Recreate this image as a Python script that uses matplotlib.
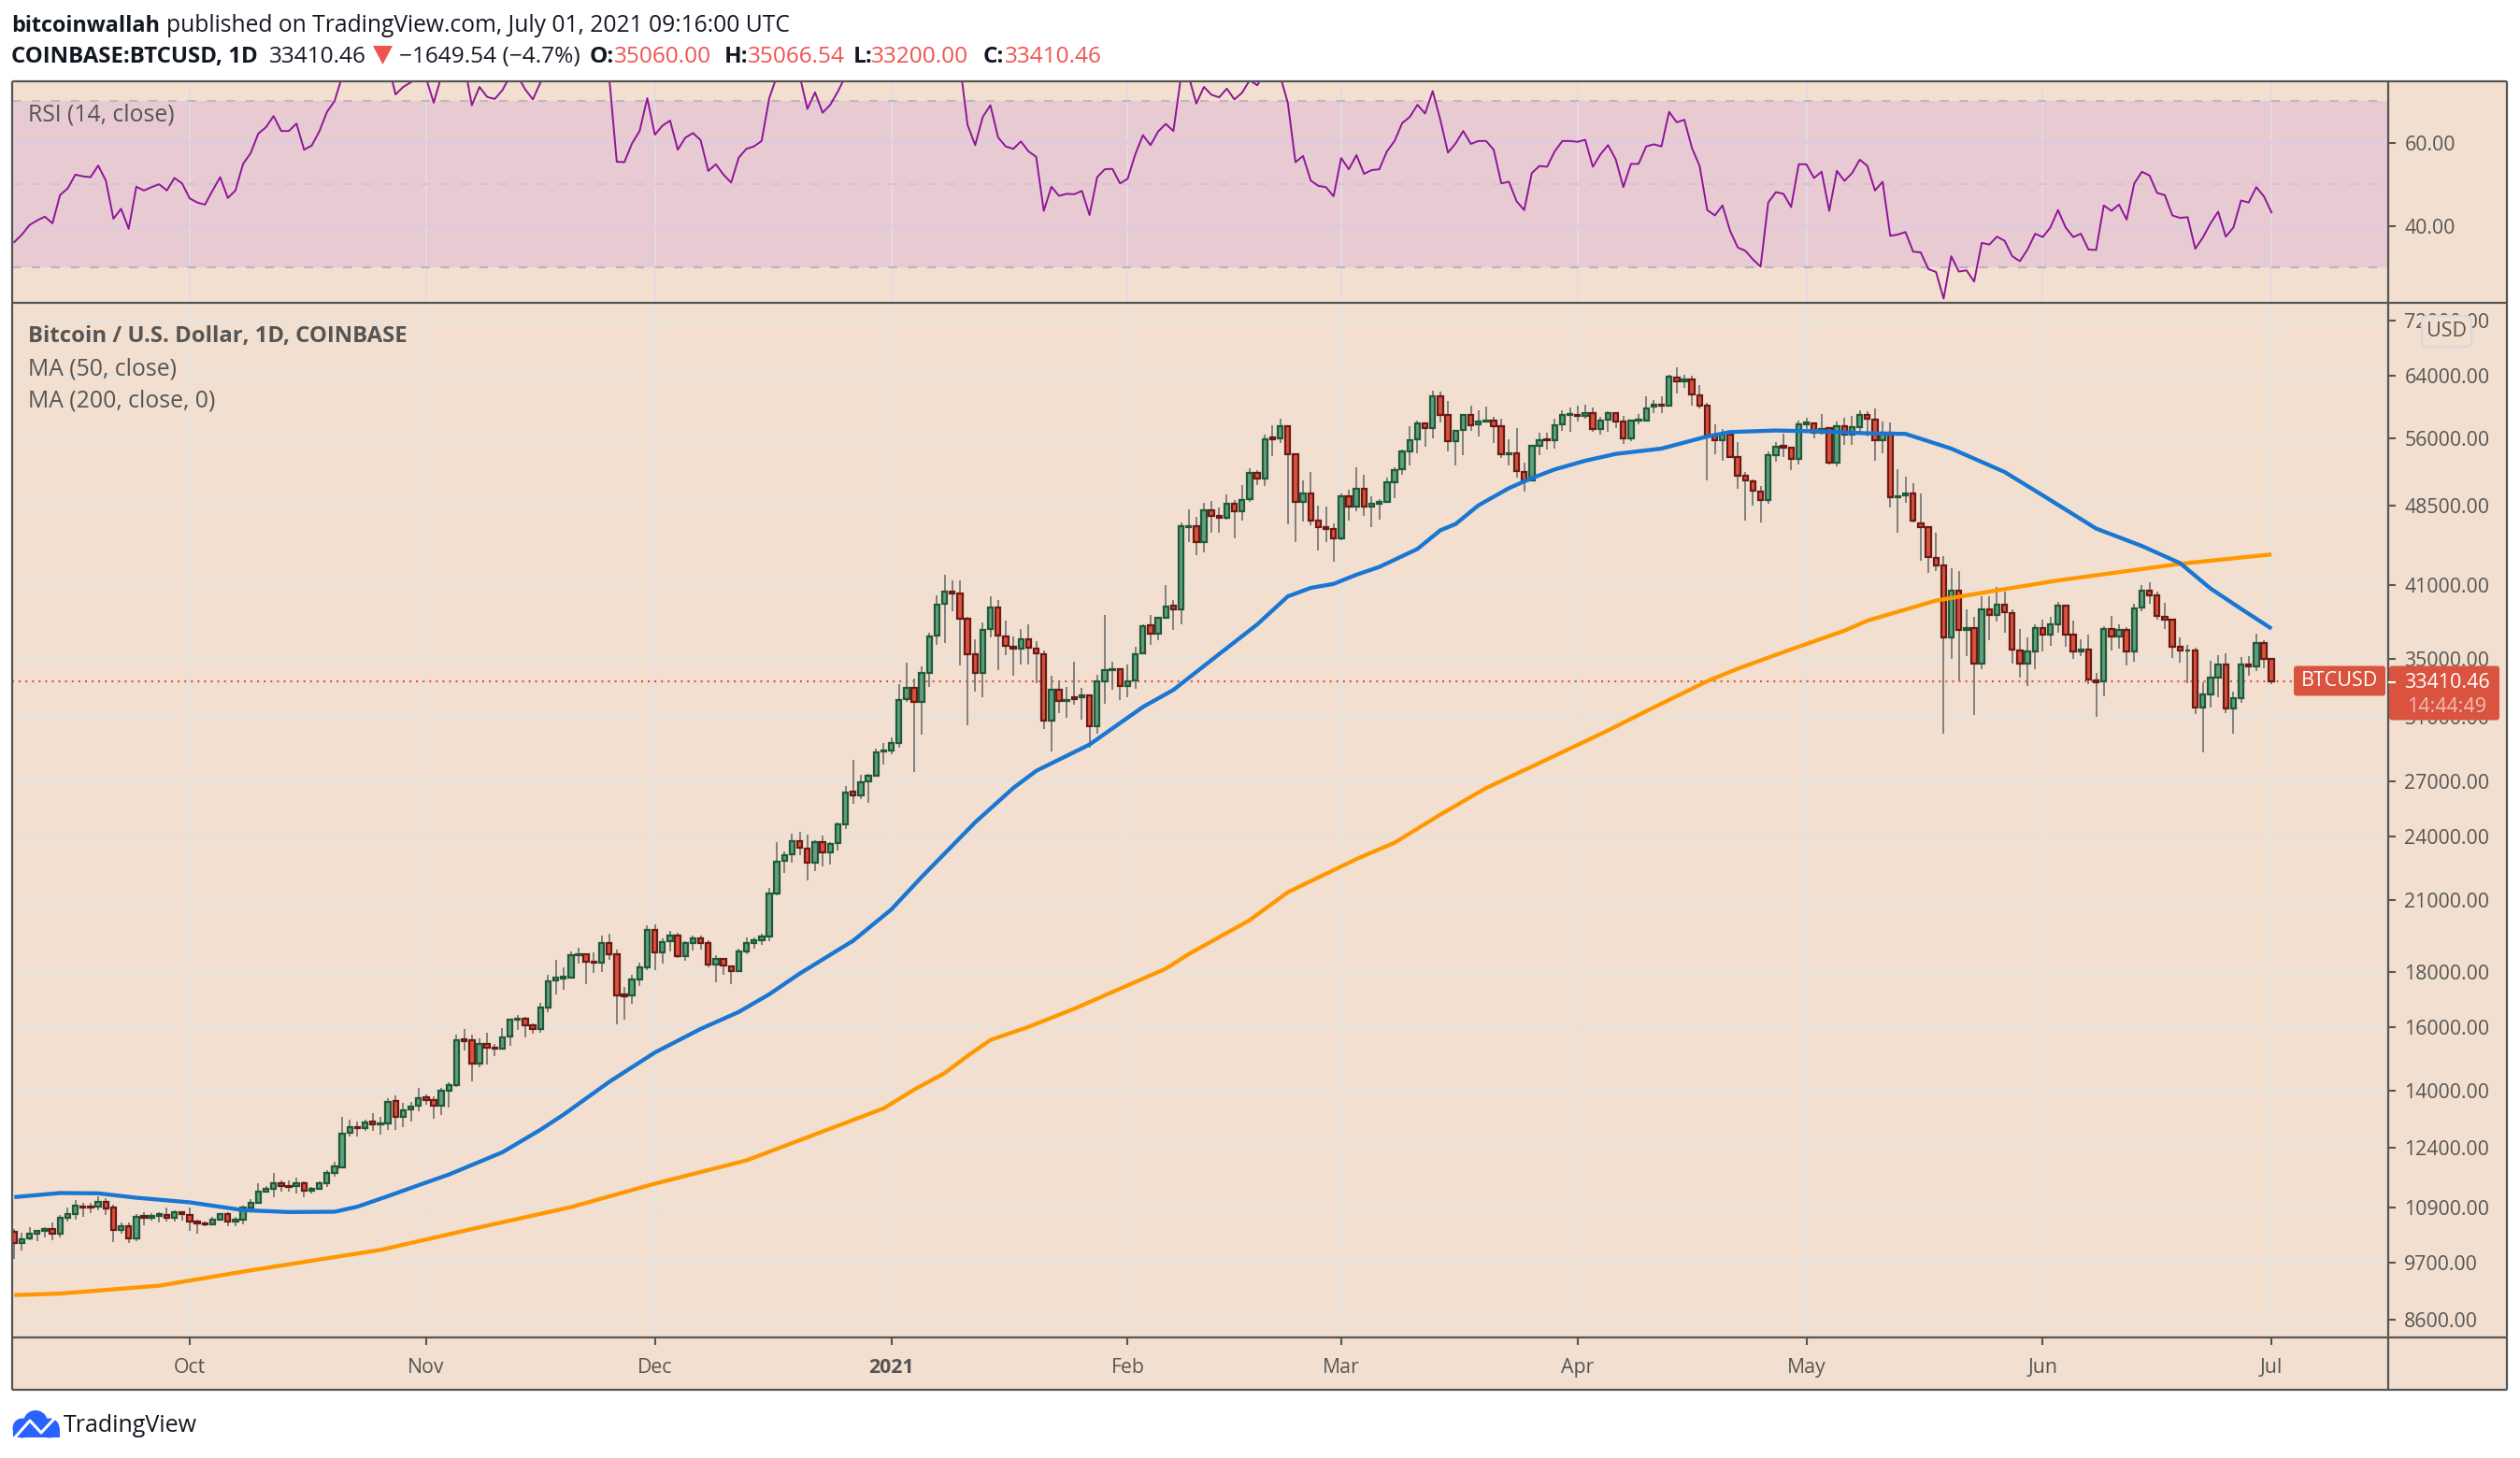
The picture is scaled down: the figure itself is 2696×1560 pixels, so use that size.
import matplotlib
matplotlib.use('Agg')
import matplotlib.pyplot as plt
from matplotlib.lines import Line2D
from matplotlib.patches import Rectangle, FancyBboxPatch, Circle, Polygon
from matplotlib.transforms import IdentityTransform

W, H = 2696, 1560
plt.rcParams['font.family'] = ['Open Sans', 'DejaVu Sans']

# daily candles, 8 Sep 2020 .. 1 Jul 2021, index 0 = 8 Sep
opens = [
    10355, 10114, 10215, 10320, 10385, 10425, 10330, 10664, 10765, 10940, 10940, 10925, 11040, 10900, 10400, 10490, 10210, 10710, 10670, 10710, 10740, 10670, 10810,
    10740, 10600, 10545, 10520, 10640, 10760, 10580, 10640, 10900, 11030, 11275, 11350, 11500, 11430, 11420, 11480, 11310, 11345, 11485, 11740, 11895, 12783, 12956, 12921, 13095, 13015, 13050, 13698, 13235, 13436, 13544,
    13790, 13724, 13553, 14000, 14149, 15610, 15579, 14820, 15440, 15330, 15295, 15690, 16260, 16310, 16075, 15950, 16700, 17670, 17770, 17800, 18660, 18690, 18410, 18370, 19130, 18690, 17150, 17130, 17730, 18180,
    19700, 18770, 19210, 19440, 18630, 19150, 19340, 19140, 18300, 18510, 18220, 18025, 18810, 19157, 19270, 19430, 21294, 22790, 23110, 23780, 23410, 22700, 23730, 23210, 23660, 24640, 26440, 26230, 26980, 27310, 28770,
    28860, 29320, 32150, 32940, 32000, 34020, 36830, 39400, 40420, 40230, 38130, 35360, 34020, 37320, 39100, 36780, 35950, 35800, 36530, 35830, 35400, 30700, 32800, 32040, 32260, 32260, 32440, 30350, 33400, 34180, 34280,
    33060, 33450, 35450, 37630, 36960, 38260, 39200, 38900, 46400, 46500, 44880, 48040, 47510, 47320, 48750, 48000, 49180, 52020, 51440, 56070, 55960, 57500, 54100, 48950, 49800, 47000, 46400, 46160,
    45270, 49550, 48400, 50260, 48400, 48770, 48920, 51000, 52414, 54500, 55850, 57800, 57240, 61240, 58850, 55670, 57020, 58860, 57680, 58000, 58130, 57430, 54130, 54270, 52160, 51230, 55150, 55890, 55740, 57650, 58800,
    58900, 58770, 59030, 57100, 58220, 59120, 57980, 55950, 58100, 58200, 59950, 60100, 60070, 63740, 63210, 63450, 61400, 60000, 56300, 55740, 56480, 53780, 51690, 51130, 50040, 49120, 54060, 55070, 54860, 53560,
    57720, 57800, 56670, 57190, 53190, 57500, 56440, 57400, 58860, 58280, 55780, 56700, 49420, 49600, 49770, 46690, 46320, 43460, 42730, 36680, 40540, 37240, 37420, 34690, 38930, 38480, 39300, 38610, 35690, 34670, 35610,
    37440, 36870, 37700, 39230, 36900, 35610, 35770, 33480, 33380, 37360, 36710, 37290, 35560, 39050, 40480, 40100, 38320, 38100, 35940, 35640, 35700, 31620, 32500, 33700, 34620, 31530, 32200, 34650, 34480, 36240,
    35060,
]
closes = [
    10121, 10206, 10310, 10380, 10430, 10330, 10664, 10755, 10945, 10900, 10900, 11050, 10895, 10400, 10495, 10210, 10700, 10670, 10710, 10750, 10670, 10810, 10750,
    10600, 10545, 10520, 10640, 10760, 10580, 10640, 10900, 11030, 11275, 11350, 11500, 11415, 11400, 11480, 11310, 11345, 11480, 11740, 11900, 12775, 12947, 12912, 13085, 13015, 13060, 13670, 13240, 13427, 13530, 13780,
    13724, 13553, 14000, 14149, 15579, 15550, 14820, 15440, 15330, 15295, 15680, 16260, 16310, 16075, 15950, 16690, 17640, 17780, 17810, 18650, 18710, 18410, 18360, 19130, 18710, 17130, 17090, 17720, 18180, 19700,
    18770, 19200, 19440, 18630, 19140, 19340, 19150, 18300, 18510, 18240, 18025, 18800, 19130, 19260, 19420, 21294, 22780, 23100, 23780, 23450, 22700, 23730, 23210, 23650, 24630, 26390, 26220, 26970, 27320, 28740, 28840,
    29300, 32130, 32940, 32000, 34000, 36750, 39330, 40420, 40250, 38170, 35400, 34020, 37290, 39100, 36800, 36000, 35800, 36530, 35870, 35470, 30700, 32800, 32040, 32130, 32150, 32440, 30350, 33400, 34180, 34280, 33070,
    33420, 35400, 37580, 36960, 38200, 39180, 38900, 46410, 46500, 44880, 48040, 47510, 47320, 48750, 48000, 49150, 52020, 51440, 55930, 55850, 57500, 54100, 48950, 49800, 47040, 46400, 46190, 45270,
    49550, 48400, 50260, 48400, 48770, 48920, 50980, 52300, 54470, 55810, 57830, 57240, 61240, 58900, 55670, 56930, 58860, 57630, 57990, 58130, 57500, 54130, 54270, 52200, 51230, 55080, 55820, 55740, 57600, 58800, 58950,
    58750, 59040, 57100, 58200, 59120, 58020, 55950, 58100, 58240, 59660, 60100, 59990, 63790, 63210, 63450, 61440, 60040, 56300, 55740, 56480, 53780, 51700, 51230, 50110, 49120, 54030, 55000, 54860, 53560, 57720,
    57870, 56670, 57120, 53190, 57500, 56440, 57380, 58860, 58360, 55780, 56700, 49420, 49530, 49770, 47000, 46390, 43490, 42750, 36680, 40540, 37270, 37420, 34690, 38960, 38480, 39300, 38660, 35730, 34670, 35580, 37440,
    36870, 37690, 39230, 36920, 35610, 35770, 33520, 33310, 37360, 36710, 37290, 35560, 39020, 40480, 40100, 38360, 38100, 35980, 35640, 35700, 31620, 32470, 33700, 34620, 31530, 32200, 34630, 34480, 36240, 35060,
    33410.46,
]
highs = [
    10420, 10340, 10461, 10390, 10461, 10565, 10735, 10915, 11090, 11020, 11030, 11180, 11130, 10970, 10565, 10565, 10770, 10810, 10790, 10810, 10915, 10835, 10830,
    10900, 10640, 10600, 10695, 10790, 10810, 10690, 10945, 11104, 11500, 11430, 11740, 11555, 11555, 11630, 11535, 11400, 11525, 11820, 12035, 13220, 13160, 13100, 13140, 13340, 13220, 13770, 13852, 13634, 13650, 14060,
    13870, 13815, 14075, 14230, 15767, 15960, 15767, 15620, 15810, 15450, 15990, 16300, 16430, 16370, 16150, 16860, 17880, 18480, 18200, 18810, 18970, 18750, 18770, 19470, 19520, 18900, 17450, 17900, 18350, 19890,
    19920, 19340, 19660, 19580, 19230, 19450, 19450, 19280, 18640, 18560, 18265, 18930, 19390, 19370, 19550, 21535, 23735, 23280, 24170, 24250, 24100, 23810, 24050, 23735, 24750, 26760, 28280, 27390, 27440, 28940, 29300,
    29660, 33210, 34740, 33570, 34470, 37020, 40140, 41870, 41420, 41420, 38280, 36500, 37870, 40000, 39720, 38000, 36760, 37320, 37700, 36350, 35640, 33780, 33460, 33030, 34800, 32970, 32480, 33900, 38440, 34820, 34280,
    34640, 35960, 37700, 38440, 38200, 40950, 39700, 46800, 48100, 47380, 48800, 49000, 48300, 49700, 49150, 50700, 52510, 52360, 56450, 57600, 58420, 57600, 54240, 51240, 52120, 48560, 48400, 46750,
    49780, 50200, 52640, 51800, 49480, 49220, 51500, 52600, 54700, 57410, 58150, 57800, 61950, 61850, 60630, 57000, 59000, 60050, 59460, 59950, 58600, 58400, 55890, 57250, 53220, 55200, 56670, 56670, 58440, 59470, 59800,
    60060, 60150, 59800, 58580, 59340, 59240, 58780, 58200, 58970, 61250, 60750, 61250, 64100, 65150, 64100, 63930, 62700, 60400, 57700, 57100, 56930, 55560, 52160, 51340, 50620, 54450, 55560, 56560, 55000, 58130,
    58550, 57870, 59000, 57300, 58050, 58550, 58700, 59480, 59260, 59670, 58000, 57900, 52400, 51600, 50900, 49770, 46500, 45830, 43570, 42500, 42240, 38890, 38310, 40050, 40050, 40840, 40460, 38950, 37320, 36700, 37700,
    38070, 38320, 39530, 39300, 38000, 36500, 36900, 33980, 37560, 38380, 37730, 37490, 39380, 41000, 41220, 40430, 39450, 38100, 36650, 36100, 35850, 33340, 34920, 35300, 35470, 32700, 35150, 35210, 36940, 36430,
    35066.54,
]
lows = [
    9790, 9967, 10187, 10160, 10230, 10187, 10240, 10585, 10640, 10700, 10780, 10840, 10730, 10130, 10330, 10110, 10160, 10510, 10610, 10560, 10600, 10600, 10610,
    10390, 10320, 10480, 10510, 10625, 10490, 10490, 10530, 10813, 11000, 11252, 11160, 11275, 11275, 11230, 11160, 11230, 11330, 11390, 11660, 11860, 12690, 12690, 12843, 12843, 12743, 12878, 12860, 12947, 13102, 13400,
    13580, 13190, 13277, 13500, 14108, 15220, 14280, 14700, 14780, 15060, 15270, 15380, 15920, 15680, 15780, 15830, 16540, 17180, 17320, 17770, 18320, 17560, 17950, 18020, 18460, 16100, 16280, 16820, 17490, 18070,
    18070, 18340, 18820, 18530, 18450, 18830, 18880, 18170, 17610, 17880, 17530, 18000, 18680, 18920, 19070, 19240, 21210, 22230, 22730, 23080, 21880, 22300, 22540, 22640, 23330, 24423, 25720, 25990, 25790, 27260, 27960,
    28630, 28980, 31960, 27540, 29800, 33000, 36100, 36250, 38760, 34570, 30400, 32700, 32260, 36700, 34240, 35280, 33800, 34650, 34650, 33260, 30190, 28780, 31240, 30920, 31810, 30780, 29000, 29900, 31830, 32780, 32100,
    32260, 32870, 35350, 36090, 36460, 38200, 37250, 37700, 44900, 43700, 43950, 45850, 45850, 47080, 45310, 47020, 48900, 50670, 50600, 53920, 55450, 46600, 44920, 46950, 46520, 44120, 44900, 43040,
    45050, 47020, 48000, 47450, 46400, 47150, 48870, 49310, 51800, 52900, 54250, 55030, 56000, 57900, 54500, 52900, 54050, 56900, 56220, 57900, 55450, 53720, 52900, 51500, 50000, 51230, 54000, 54670, 54830, 56930, 56820,
    58000, 58400, 56800, 56480, 56820, 57250, 55330, 55700, 57700, 58000, 59080, 59090, 59920, 61600, 62370, 60030, 59630, 51250, 54170, 53420, 53670, 50300, 47000, 48560, 46840, 48730, 53240, 53820, 52300, 52980,
    57100, 56000, 56450, 52980, 52800, 55180, 55230, 56820, 56220, 53440, 54200, 48380, 45830, 48800, 46780, 43190, 42030, 42210, 29910, 35040, 33480, 35270, 31100, 34300, 36420, 37930, 37070, 34670, 33700, 33040, 34260,
    35570, 36000, 37070, 35920, 35000, 35270, 33220, 30970, 32330, 35700, 35800, 34580, 34800, 38770, 39390, 38080, 37340, 35070, 34780, 33290, 31160, 28700, 31610, 32290, 31230, 29910, 31920, 33780, 34160, 34310,
    33200,
]

ma50_days = [0, 6, 11, 16, 23, 30, 36, 42, 45, 49, 53, 57, 64, 69, 72, 78, 84, 90, 95, 99, 103, 110, 115, 119, 122, 126, 131, 134, 141, 148, 152, 158, 163, 167, 170, 173, 176, 179, 184, 187, 189, 192, 196, 199, 202, 206, 210, 216, 222, 225, 231, 237, 243, 248, 254, 261, 266, 273, 279, 284, 288, 292, 296]
ma50_vals = [11155, 11252, 11245, 11140, 11031, 10850, 10806, 10813, 10930, 11178, 11440, 11704, 12270, 12873, 13290, 14250, 15170, 15950, 16537, 17170, 17944, 19240, 20560, 22040, 23160, 24749, 26620, 27610, 29200, 31630, 32800, 35396, 37700, 40015, 40740, 41090, 41900, 42600, 44260, 46050, 46670, 48560, 50370, 51450, 52414, 53390, 54170, 54790, 56220, 56750, 56940, 56820, 56600, 56530, 54790, 52130, 49600, 46220, 44540, 42950, 40690, 38970, 37360]
ma200_days = [0, 6, 19, 31, 48, 61, 73, 84, 96, 105, 114, 118, 122, 125, 128, 133, 139, 151, 154, 162, 167, 176, 181, 187, 193, 201, 209, 214, 222, 226, 233, 240, 243, 252, 260, 268, 276, 284, 296]
ma200_vals = [9057, 9086, 9240, 9546, 9970, 10460, 10920, 11478, 12060, 12745, 13470, 14020, 14520, 15060, 15580, 16020, 16650, 18130, 18700, 20100, 21330, 22890, 23700, 25160, 26620, 28290, 30090, 31350, 33410, 34310, 35750, 37200, 38000, 39660, 40530, 41390, 42130, 42880, 43750]

rsi = [
    36.1, 37.9, 40.2, 41.3, 42.2, 40.6, 47.4, 49.0, 52.3, 51.9, 51.7, 54.5, 50.9, 41.7, 44.1, 39.3, 49.4, 48.5, 49.3, 50.0, 48.5, 51.5, 50.2,
    46.6, 45.6, 45.1, 48.5, 51.7, 46.7, 48.5, 54.9, 57.5, 62.2, 63.7, 66.4, 62.8, 62.8, 64.6, 58.3, 59.3, 62.7, 67.4, 70.0,
    76, 78, 78, 79, 78, 78, 79, 71.6, 73.4, 74.5, 76, 75.5, 69.6, 76, 77, 81, 79, 69.0, 73.4, 71.0, 70.5, 72.6, 76, 76, 72.8, 70.4, 74.5,
    78, 79, 79, 82, 82, 78, 78, 81, 76, 55.4, 55.3, 59.8, 62.8, 70.7,
    61.9, 64.1, 65.3, 58.3, 61.2, 62.3, 60.6, 53.2, 54.8, 52.3, 50.4, 56.4, 58.5, 59.1, 60.4, 70.7,
    76, 77, 78, 76, 68.1, 72.1, 67.2, 69.1, 72.3, 76,
    76, 77, 78, 79, 79, 80, 84, 85, 84, 85, 86, 87, 87, 84, 79, 64.3,
    59.4, 66.2, 69.0, 61.3, 59.1, 58.5, 60.3, 57.9, 56.6, 43.6, 49.4, 47.2, 47.7, 47.6, 48.4, 42.6, 51.7, 53.6, 53.7, 50.2,
    51.3, 57.2, 61.8, 59.4, 62.7, 64.5, 62.8, 76, 76, 69.4, 73.4, 71.5, 70.9, 73.0, 70.4, 72.0, 75.0, 73.8, 77, 77, 76, 69.6, 55.3, 56.8,
    50.9, 49.6, 49.3, 47.1, 56.3, 53.6, 57.0, 52.5, 53.4, 53.6, 57.9, 60.4, 64.7, 66.2, 69.1, 67.0, 72.4, 65.5, 57.6, 59.8, 62.8, 59.7, 60.4, 60.4, 58.3,
    50.2, 50.6, 45.9, 43.8, 52.7, 54.4, 54.2, 57.9, 60.4, 60.4, 60.2, 60.7, 54.2, 57.2, 59.4, 56.0, 49.3, 54.9, 54.9, 59.1, 59.6, 59.1, 67.4, 64.9, 65.5,
    58.7, 54.4, 43.8, 42.5, 44.9, 38.8, 34.8, 34.0, 31.9, 30.2, 45.6, 48.1, 47.7, 44.5, 54.8, 54.8, 51.5, 53.0, 43.6, 53.2, 50.8, 52.7, 55.9, 54.4, 48.5,
    50.6, 37.6, 37.9, 38.5, 33.8, 33.6, 29.6, 28.9, 22.5, 32.7, 29.0, 29.3, 26.6, 35.9, 35.5, 37.4, 36.4, 32.7, 31.5, 34.3, 38.1, 37.3, 39.6, 43.8, 39.6,
    37.3, 38.1, 34.3, 34.2, 44.9, 43.6, 45.1, 41.5, 50.2, 53.0, 52.1, 47.9, 47.4, 42.5, 41.9, 42.1, 34.5, 37.2, 40.6, 43.4, 37.4, 39.6, 46.1, 45.6, 49.3, 47.1, 43.2,
]

price_ticks = [72000, 64000, 56000, 48500, 41000, 35000, 31000, 27000, 24000, 21000, 18000, 16000, 14000, 12400, 10900, 9700, 8600]
rsi_ticks = [60, 40]
month_days = [23, 54, 84, 115, 146, 174, 205, 235, 266, 296]
month_labels = ['Oct', 'Nov', 'Dec', '2021', 'Feb', 'Mar', 'Apr', 'May', 'Jun', 'Jul']

BG = '#f2dfcf'
GRID = '#e6e2df'
DARK = '#555555'
RED = '#d9533f'
TEXT = '#131722'
HDR_RED = '#ef5350'

X0, X1 = -0.32, 311.3
LEFT, AXIS, RIGHT = 12.7, 2555, 2682
TOP, SPLIT, XAX, BOTTOM = 87, 323.5, 1431, 1487


def rect(x0, y0, x1, y1):
    return [x0 / W, 1 - y1 / H, (x1 - x0) / W, (y1 - y0) / H]


def ln(x0, y0, x1, y1, color=DARK, lw=1.6, z=2.5):
    fig.add_artist(Line2D([x0, x1], [H - y0, H - y1], color=color, lw=lw, zorder=z,
                          transform=IdentityTransform(), solid_capstyle='butt'))


def txt(x, y, s, size=16, color=TEXT, weight='normal', ha='left'):
    fig.text(x / W, 1 - (y + 3) / H, s, fontsize=size, color=color, fontweight=weight, ha=ha, va='center', zorder=4)


fig = plt.figure(figsize=(W / 100, H / 100), dpi=100, facecolor='white')
fig.add_artist(Rectangle((LEFT, H - BOTTOM), RIGHT - LEFT, BOTTOM - TOP, facecolor=BG, edgecolor='none',
                         transform=IdentityTransform(), zorder=-1))

# rsi pane
ax_r = fig.add_axes(rect(LEFT, TOP, AXIS, SPLIT), facecolor=BG)
ax_r.axhspan(30, 70, color='#e8cad2', lw=0, zorder=0)
for d in month_days:
    ax_r.axvline(d, color='#e4dae4', lw=1.3, zorder=1)
for v in rsi_ticks:
    ax_r.axhline(v, color='#dccbe3', lw=1.5, zorder=1)
ax_r.axhline(70, color='#c0b8ba', lw=1.5, dashes=(4.5, 5.5), zorder=1)
ax_r.axhline(30, color='#bdb1bc', lw=1.5, dashes=(4.5, 5.5), zorder=1)
ax_r.axhline(50, color='#d6c2cf', lw=1.5, dashes=(4.5, 5.5), zorder=1)
ax_r.plot(range(len(rsi)), rsi, color='#8e1599', lw=1.4, zorder=3)
ax_r.set_xlim(X0, X1)
ax_r.set_ylim(21.6, 74.75)
ax_r.set_xticks([])
ax_r.yaxis.tick_right()
ax_r.set_yticks(rsi_ticks)
ax_r.set_yticklabels([f'{v:.2f}' for v in rsi_ticks])
ax_r.tick_params(axis='y', length=5.5, width=1.5, color=DARK, labelcolor=DARK, labelsize=15.3, pad=7)
for s in ax_r.spines.values():
    s.set_visible(False)

# price pane
ax = fig.add_axes(rect(LEFT, SPLIT, AXIS, XAX), facecolor=BG)
ax.set_yscale('log')
for d in month_days:
    ax.axvline(d, color=GRID, lw=1.5, zorder=1)
for p in price_ticks:
    ax.axhline(p, color=GRID, lw=1.5, zorder=1)
ax.axhline(closes[-1], color=RED, lw=1.5, dashes=(1, 2.4), zorder=2)

days = list(range(len(closes)))
ax.vlines(days, lows, highs, color='#787878', lw=1.3, zorder=3)
for d in days:
    up = closes[d] >= opens[d]
    ax.bar(d, abs(closes[d] - opens[d]), bottom=min(opens[d], closes[d]), width=0.66,
           facecolor='#639f7e' if up else '#d9533f', edgecolor='#1f5b3b' if up else '#6b1a14',
           linewidth=1.6, zorder=4)

ax.plot(ma200_days, ma200_vals, color='#ff9800', lw=3.1, zorder=5, solid_capstyle='butt')
ax.plot(ma50_days, ma50_vals, color='#1976d2', lw=3.1, zorder=6, solid_capstyle='butt')

ax.set_xlim(X0, X1)
ax.set_ylim(8277, 74772)
ax.yaxis.tick_right()
ax.set_yticks(price_ticks)
ax.set_yticklabels([f'{p:.2f}' for p in price_ticks])
ax.minorticks_off()
ax.set_xticks(month_days)
ax.set_xticklabels(month_labels)
ax.tick_params(axis='y', length=5.5, width=1.5, color=DARK, labelcolor=DARK, labelsize=15.3, pad=7)
ax.tick_params(axis='x', length=5.5, width=1.5, color=DARK, labelcolor=DARK, labelsize=15.3, pad=10)
ax.get_xticklabels()[3].set_fontweight('bold')
for s in ax.spines.values():
    s.set_visible(False)

# frame
ln(LEFT, TOP, RIGHT, TOP)
ln(LEFT, SPLIT, RIGHT, SPLIT)
ln(LEFT, XAX, RIGHT, XAX)
ln(LEFT, BOTTOM, RIGHT, BOTTOM)
ln(LEFT, TOP, LEFT, BOTTOM)
ln(AXIS, TOP, AXIS, BOTTOM)
ln(RIGHT, TOP, RIGHT, BOTTOM)

# price label
for x0, x1, y1 in [(2454, 2552, 744.5), (2556, 2674, 770.5)]:
    fig.add_artist(FancyBboxPatch((x0, H - y1), x1 - x0, y1 - 712.5, boxstyle='round,pad=0,rounding_size=3',
                                  facecolor=RED, edgecolor='none', transform=IdentityTransform(), zorder=3))
ln(2555, 730, 2563, 730, color='white', z=3.5)
txt(2503, 726, 'BTCUSD', 15.5, 'white', ha='center')
txt(2618, 727, '33410.46', 15.5, 'white', ha='center')
txt(2618, 753, '14:44:49', 15.5, '#f0bdb2', ha='center')

fig.add_artist(FancyBboxPatch((2591, H - 371), 53, 33, boxstyle='round,pad=0,rounding_size=6', facecolor=BG,
                              edgecolor='#d5d8e0', lw=1.5, transform=IdentityTransform(), zorder=3))
txt(2618, 352, 'USD', 15.5, DARK, ha='center')

# pane titles
txt(30, 120, 'RSI (14, close)', 17.8, DARK)
txt(30, 357, 'Bitcoin / U.S. Dollar, 1D, COINBASE', 17.2, DARK, 'bold')
txt(30, 392, 'MA (50, close)', 17.8, DARK)
txt(30, 426, 'MA (200, close, 0)', 17.8, DARK)

# header
txt(12, 25, 'bitcoinwallah', 16.8, TEXT, 'bold')
txt(178, 25, 'published on TradingView.com, July 01, 2021 09:16:00 UTC', 17.7)
txt(12, 58, 'COINBASE:BTCUSD, 1D', 17.3, TEXT, 'bold')
txt(288, 58, '33410.46', 17.6)
fig.add_artist(Polygon([[399, H - 49], [420, H - 49], [409.5, H - 69]], closed=True, facecolor=HDR_RED,
                       edgecolor='none', transform=IdentityTransform(), zorder=4))
txt(427, 58, '−1649.54 (−4.7%)', 17.6)
for x, gap, key, val in [(631, 26, 'O:', '35060.00'), (775, 25, 'H:', '35066.54'), (913, 19, 'L:', '33200.00'), (1052, 23, 'C:', '33410.46')]:
    txt(x, 58, key, 17.6, TEXT, 'bold')
    txt(x + gap, 58, val, 17.6, HDR_RED)

# logo
for cx, cy, r in [(24, 1528, 10.5), (38, 1522, 13), (53, 1528, 10.5)]:
    fig.add_artist(Circle((cx, H - cy), r, facecolor='#2962ff', edgecolor='none', transform=IdentityTransform(), zorder=3))
fig.add_artist(Rectangle((14, H - 1538), 50, 10, facecolor='#2962ff', edgecolor='none', transform=IdentityTransform(), zorder=3))
fig.add_artist(Line2D([16, 32, 44, 58], [H - 1538, H - 1520, H - 1533, H - 1518], color='white', lw=2.2,
                      transform=IdentityTransform(), zorder=3.5))
txt(68, 1523, 'TradingView', 18, TEXT)

fig.savefig('out.png', dpi=100)
